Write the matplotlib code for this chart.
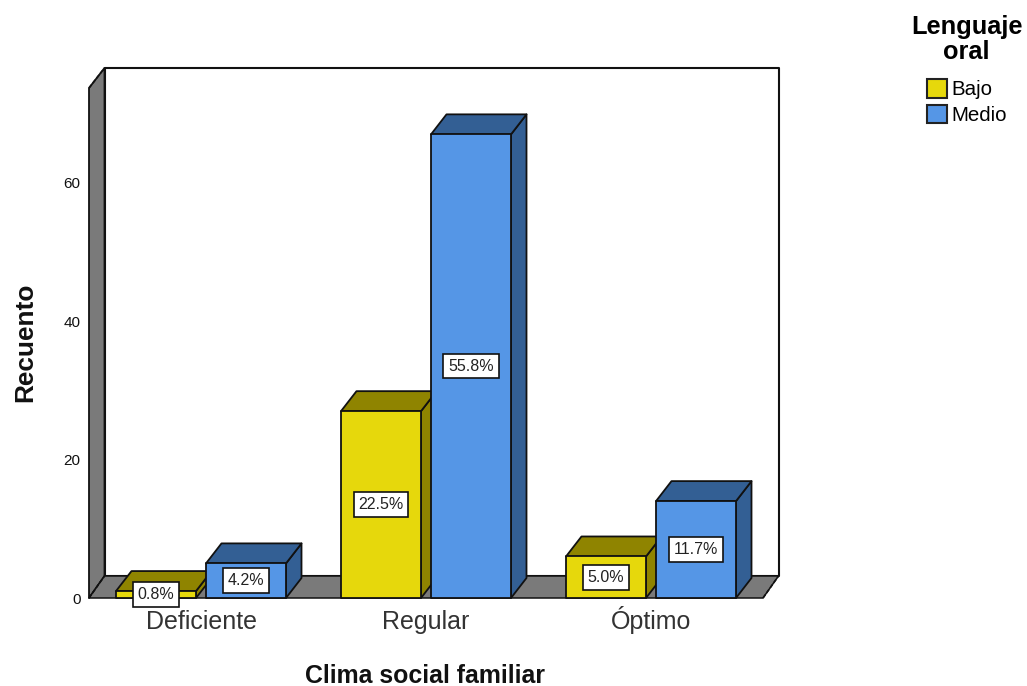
import matplotlib
matplotlib.use("Agg")
import matplotlib.pyplot as plt
from matplotlib.patches import Polygon, Patch

plt.rcParams['font.family'] = ['Liberation Sans', 'DejaVu Sans']

categories = ["Deficiente", "Regular", "Óptimo"]
bajo = [1, 27, 6]
medio = [5, 67, 14]
bajo_pct = ["0.8%", "22.5%", "5.0%"]
medio_pct = ["4.2%", "55.8%", "11.7%"]
y_ticks = [0, 20, 40, 60]

W, H = 1027, 686
L, R, B, T = 89, 763, 598, 88       # front plane in pixels
PX_X = 225.0                        # pixels per category
PX_Y = 6.92                         # pixels per count
C0 = 201                            # pixel of first category
DX, DY = 15.5 / PX_X, 20 / PX_Y     # depth offset in data units
FDY = 22 / PX_Y                     # floor depth
BW, OFF = 80 / PX_X, 45 / PX_X

YEL, YEL_D = "#e6d80c", "#8f8400"
BLU, BLU_D = "#5596e6", "#335f94"
GREY = "#7a7a7a"

fig = plt.figure(figsize=(W / 100, H / 100), dpi=100, facecolor="white")
ax = fig.add_axes([L / W, 1 - B / H, (R - L) / W, (B - T) / H])
xmin, xmax = (L - C0) / PX_X, (R - C0) / PX_X
ymax = (B - T) / PX_Y
ax.set_xlim(xmin, xmax)
ax.set_ylim(0, ymax)
for s in ax.spines.values():
    s.set_visible(False)
ax.patch.set_visible(False)


def poly(pts, fc, z, ec="#111111", lw=1.3, ls="-"):
    ax.add_patch(Polygon(pts, closed=True, fc=fc, ec=ec, lw=lw, ls=ls, zorder=z, clip_on=False, joinstyle="round"))


# walls and floor
poly([(xmin + DX, FDY), (xmax + DX, FDY), (xmax + DX, ymax + DY), (xmin + DX, ymax + DY)], "white", 1, lw=1.5)
poly([(xmin, 0), (xmin + DX, FDY), (xmin + DX, ymax + DY), (xmin, ymax)], GREY, 2, lw=1.3)
poly([(xmin, 0), (xmax, 0), (xmax + DX, FDY), (xmin + DX, FDY)], GREY, 2, lw=1.1)
dash = (0, (2.5, 1.2))
ax.plot([xmin, xmin + DX], [ymax, ymax + DY], color="#111111", lw=1.2, ls=dash, zorder=3, clip_on=False)
ax.plot([xmin, xmin + DX], [0, FDY], color="#111111", lw=1.2, ls=dash, zorder=3, clip_on=False)
ax.plot([xmax, xmax + DX], [0, FDY], color="#111111", lw=1.2, ls=dash, zorder=3, clip_on=False)


def bar3d(xc, v, front, dark, z):
    x0, x1 = xc - BW / 2, xc + BW / 2
    poly([(x1, 0), (x1 + DX, DY), (x1 + DX, v + DY), (x1, v)], dark, z)
    poly([(x0, v), (x1, v), (x1 + DX, v + DY), (x0 + DX, v + DY)], dark, z)
    poly([(x0, 0), (x1, 0), (x1, v), (x0, v)], front, z + 0.1)


z = 4
for i, (a, b) in enumerate(zip(bajo, medio)):
    bar3d(i - OFF, a, YEL, YEL_D, z)
    bar3d(i + OFF, b, BLU, BLU_D, z + 1)
    z += 2

box = dict(boxstyle="square,pad=0.3", fc="white", ec="#111111", lw=1.2)
for i in range(len(categories)):
    for xc, v, t in ((i - OFF, bajo[i], bajo_pct[i]), (i + OFF, medio[i], medio_pct[i])):
        ax.text(xc, v / 2, t, ha="center", va="center", fontsize=11.5, color="#222222", bbox=box, zorder=20, clip_on=False)

ax.set_xticks(range(len(categories)), categories)
ax.set_yticks(y_ticks)
ax.tick_params(axis="x", length=0, labelsize=18, pad=22, labelcolor="#333333")
for lab in ax.get_xticklabels():
    lab.set_va("baseline")
ax.tick_params(axis="y", length=0, labelsize=11, pad=6, labelcolor="#111111")
ax.set_xlabel("Clima social familiar", fontsize=17.9, fontweight="bold", color="#111111", va="center")
ax.xaxis.set_label_coords((425 - L) / (R - L), (B - 676) / (B - T))
ax.set_ylabel("Recuento", fontsize=18.9, fontweight="bold", color="#111111", va="center")
ax.yaxis.set_label_coords((25 - L) / (R - L), (B - 342) / (B - T))

handles = [Patch(fc=YEL, ec="#222222", lw=1.5, label="Bajo"), Patch(fc=BLU, ec="#222222", lw=1.5, label="Medio")]
leg = fig.legend(handles=handles, title="Lenguaje\noral", loc="upper left", bbox_to_anchor=(911 / W, 1 - 15 / H),
                 frameon=False, fontsize=14.8, handlelength=1.0, handleheight=1.0, handletextpad=0.2,
                 labelspacing=0.27, borderpad=0, borderaxespad=0, alignment="center",
                 title_fontproperties=dict(weight="bold", size=18.3))
leg.get_title().set_multialignment("center")
leg.get_title().set_linespacing(1.05)
leg._legend_box.sep = 11
fig.savefig("out.png", dpi=100)
